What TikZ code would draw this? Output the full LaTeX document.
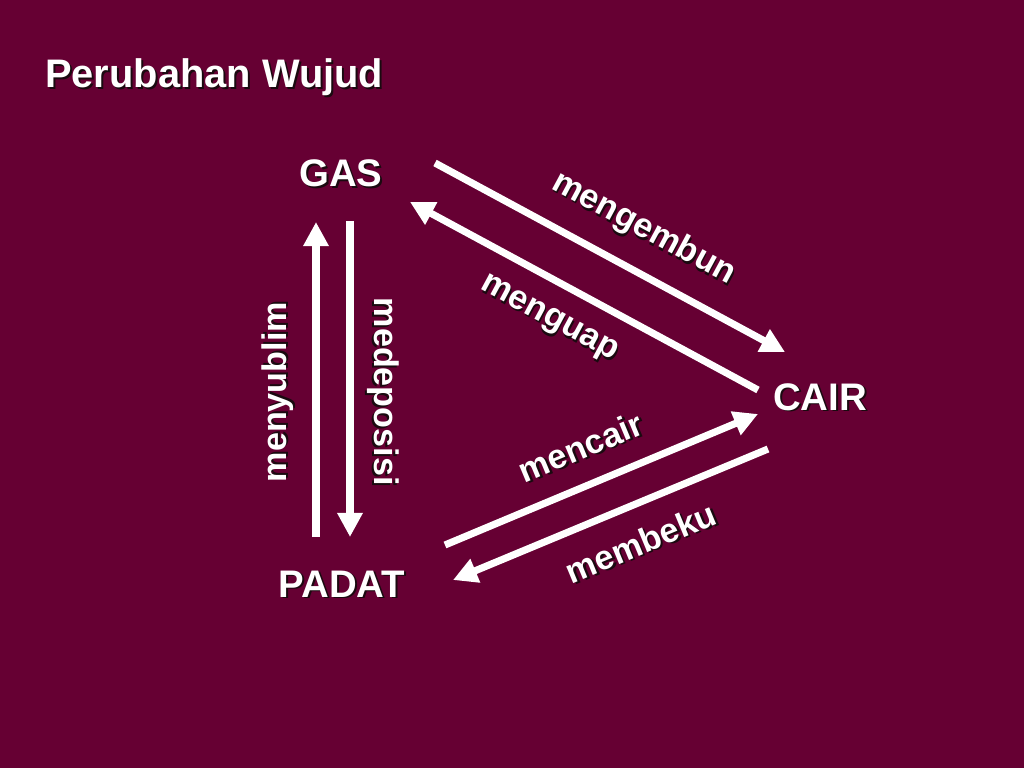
\documentclass[tikz,border=0pt]{standalone}
\usepackage{fontspec}
\setmainfont{Liberation Sans}
\usetikzlibrary{arrows.meta}
\definecolor{slidebg}{HTML}{660033}
\definecolor{shadowc}{HTML}{1A0A10}
\newcommand{\shadowed}[1]{\makebox[0pt][l]{\hspace{1.4pt}\raisebox{-1.4pt}{\color{shadowc}#1}}#1}
\tikzset{
  title/.style={text=white, inner sep=0pt, font=\fontsize{28}{34}\selectfont\bfseries},
  state/.style={text=white, inner sep=0pt, font=\fontsize{27}{32}\selectfont\bfseries},
  lbl/.style={text=white, inner sep=0pt, font=\fontsize{24}{28}\selectfont\bfseries}
}
\begin{document}
\begin{tikzpicture}[x=0.703125pt,y=-0.703125pt,>={Triangle[length=17pt,width=17pt]}]
\fill[slidebg] (0,0) rectangle (1024,768);
\useasboundingbox (0,0) rectangle (1024,768);

\node[title, anchor=base west] (T) at (45,88) {\shadowed{Perubahan Wujud}};

\begin{scope}[every node/.style={state, anchor=base}]
	\node (GAS) at (341,187) {\shadowed{GAS}};
	\node (CAIR) at (820,410) {\shadowed{CAIR}};
	\node (PADAT) at (342,597) {\shadowed{PADAT}};
\end{scope}

% arrow ends
\coordinate (gc1) at (435,163);
\coordinate (gc2) at (785,352);
\coordinate (cg1) at (758,390);
\coordinate (cg2) at (410,202);
\coordinate (pc1) at (445,545);
\coordinate (pc2) at (758,414);
\coordinate (cp1) at (768,449);
\coordinate (cp2) at (453,580);
\coordinate (pg1) at (316,537);
\coordinate (pg2) at (316,222);
\coordinate (gp1) at (350,221);
\coordinate (gp2) at (350,537);

\begin{scope}[every edge/.style={draw=white,line width=5pt}]
	\path [->] (gc1) edge node [lbl,sloped,pos=.54,above=14pt] {\shadowed{mengembun}} (gc2);
	\path [->] (cg1) edge node [lbl,sloped,pos=.55,below=15pt] {\shadowed{menguap}} (cg2);
	\path [->] (pc1) edge node [lbl,sloped,pos=.48,above=14pt] {\shadowed{mencair}} (pc2);
	\path [->] (cp1) edge node [lbl,sloped,pos=.45,below=15pt] {\shadowed{membeku}} (cp2);
	\path [->] (pg1) edge node [lbl,sloped,pos=.46,above=12pt] {\shadowed{menyublim}} (pg2);
	\path [->] (gp1) edge node [lbl,sloped,pos=.54,above=8pt] {\shadowed{medeposisi}} (gp2);
\end{scope}
\end{tikzpicture}
\end{document}
